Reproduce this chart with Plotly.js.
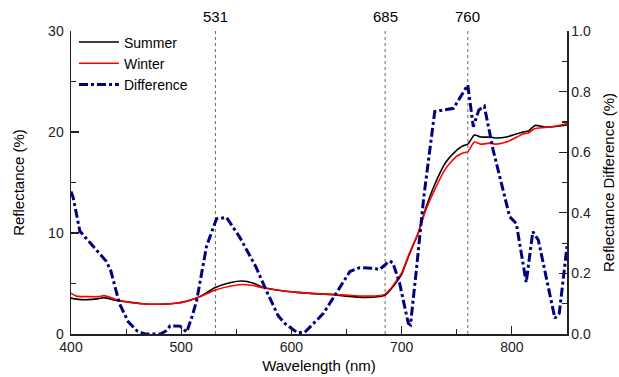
<!DOCTYPE html>
<html><head><meta charset="utf-8">
<script src="https://cdn.plot.ly/plotly-3.0.1.min.js"></script>
<style>html,body{margin:0;padding:0;background:#fff}#chart{width:619px;height:377px}</style>
</head><body><div id="chart"></div>
<script>
const wavelength = [400,405,415,425,430,440,450,465,480,495,505,517,531,545,555,565,575,590,605,620,635,650,665,678,685,690,695,700,707,715,722,730,740,750,755,760,766,772,780,786,795,801,810,815,821,830,840,850];
const summer = [3.55,3.45,3.4,3.5,3.6,3.35,3.2,3.0,2.95,3.05,3.25,3.7,4.6,5.1,5.25,5.05,4.6,4.3,4.12,4.0,3.92,3.75,3.63,3.68,3.86,4.4,5.1,5.9,7.9,10.0,12.5,14.8,17.0,18.2,18.6,18.8,19.7,19.5,19.5,19.4,19.5,19.7,20.0,20.1,20.65,20.5,20.55,20.7];
const winter = [4.05,3.75,3.7,3.7,3.8,3.45,3.2,3.0,2.95,3.05,3.25,3.7,4.35,4.75,4.9,4.8,4.55,4.3,4.12,4.0,3.92,3.85,3.76,3.78,3.95,4.5,5.25,6.05,8.0,10.0,12.3,14.3,16.4,17.6,17.9,18.05,19.0,18.8,18.9,18.8,19.0,19.3,19.8,19.9,20.35,20.45,20.6,20.85];
const diffWavelength = [400,402,408,420,432,436,444,452,460,467,481,486,490,499,505,510,514,523,532,541,553,568,577,588,594,605,612,629,644,653,662,674,680,689,692,698,706,708,713,720,730,747,760,765,770,775,783,798,804,812,813,819,824,839,843,850];
const difference = [0.47,0.45,0.34,0.29,0.24,0.21,0.10,0.04,0.01,0.0,0.0,0.01,0.027,0.026,0.006,0.06,0.11,0.29,0.38,0.385,0.32,0.22,0.145,0.06,0.035,0.005,0.005,0.068,0.156,0.206,0.219,0.217,0.213,0.241,0.235,0.17,0.035,0.03,0.2,0.45,0.734,0.745,0.822,0.684,0.739,0.752,0.607,0.387,0.365,0.178,0.17,0.338,0.31,0.052,0.068,0.29];
const markerWavelengths = [531, 685, 760];
const seriesNames = ['Summer', 'Winter', 'Difference'];

const FONT = 'Liberation Sans, Arial, sans-serif';
const traces = [
  {x: wavelength, y: summer, name: seriesNames[0], type: 'scatter', mode: 'lines', line: {color: '#000000', width: 1.6, shape: 'spline', smoothing: 0.6}},
  {x: wavelength, y: winter, name: seriesNames[1], type: 'scatter', mode: 'lines', line: {color: '#ff0000', width: 1.6, shape: 'spline', smoothing: 0.6}},
  {x: diffWavelength, y: difference, name: seriesNames[2], type: 'scatter', mode: 'lines', yaxis: 'y2', line: {color: '#000080', width: 3, dash: 'dashdot'}}
];

const shapes = markerWavelengths.map(w => ({type: 'line', xref: 'x', yref: 'paper', x0: w, x1: w, y0: 0, y1: 1, line: {color: '#666', width: 1, dash: 'dot'}, layer: 'below'}));
const annotations = markerWavelengths.map(w => ({x: w, xref: 'x', y: 1, yref: 'paper', yanchor: 'bottom', yshift: 4, text: String(w), showarrow: false, font: {family: FONT, size: 15, color: '#000'}}));

const axisCommon = {showgrid: false, zeroline: false, showline: true, linecolor: '#222', linewidth: 1.5, ticks: 'inside', ticklen: 8, tickwidth: 1.2, tickcolor: '#222', tickfont: {family: FONT, size: 14, color: '#222'}};

const layout = {
  width: 619, height: 377,
  margin: {l: 71, r: 52, t: 31, b: 43},
  paper_bgcolor: '#fff', plot_bgcolor: '#fff',
  showlegend: true,
  legend: {x: 0.006, y: 1.015, xanchor: 'left', yanchor: 'top', bgcolor: 'rgba(0,0,0,0)', font: {family: FONT, size: 14, color: '#000'}, tracegroupgap: 0, itemwidth: 40},
  xaxis: Object.assign({}, axisCommon, {range: [400, 850], dtick: 100, tick0: 400, minor: {dtick: 50, ticks: 'inside', ticklen: 5, tickcolor: '#222'},
    title: {text: 'Wavelength (nm)', font: {family: FONT, size: 15, color: '#000'}, standoff: 6}}),
  yaxis: Object.assign({}, axisCommon, {range: [0, 30], dtick: 10, ticklabelstandoff: 3, minor: {dtick: 5, ticks: 'inside', ticklen: 5, tickcolor: '#222'},
    title: {text: 'Reflectance (%)', font: {family: FONT, size: 15, color: '#000'}, standoff: 20}}),
  yaxis2: Object.assign({}, axisCommon, {overlaying: 'y', side: 'right', range: [0, 1], dtick: 0.2, tickformat: '.1f', minor: {dtick: 0.1, ticks: 'inside', ticklen: 5, tickcolor: '#222'},
    title: {text: 'Reflectance Difference (%)', font: {family: FONT, size: 15, color: '#000'}, standoff: 13}}),
  shapes: shapes,
  annotations: annotations
};

Plotly.newPlot('chart', traces, layout, {displayModeBar: false, staticPlot: true});
</script></body></html>
